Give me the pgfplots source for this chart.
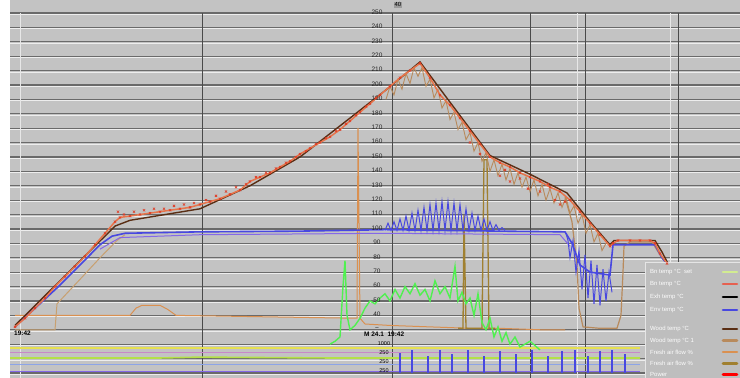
\documentclass[border=0pt]{standalone}
\usepackage{fontspec}
\setmainfont{Liberation Sans}
\usepackage{pgfplots}
\pgfplotsset{compat=1.18}
\definecolor{bg}{HTML}{C3C3C3}
\definecolor{gridc}{HTML}{6A6A6A}
\definecolor{vgrid}{HTML}{4A4A4A}
\definecolor{bt}{HTML}{E8744A}
\definecolor{btm}{HTML}{E03A24}
\definecolor{dbrown}{HTML}{5A2E14}
\definecolor{tan}{HTML}{B88A5C}
\definecolor{tanl}{HTML}{C8A070}
\definecolor{envb}{HTML}{4848E0}
\definecolor{purp}{HTML}{8468E8}
\definecolor{orng}{HTML}{DA9050}
\definecolor{olive}{HTML}{A08030}
\definecolor{grn}{HTML}{50F050}
\definecolor{ylw}{HTML}{E6E050}
\definecolor{pink}{HTML}{C888C8}
\definecolor{lblue}{HTML}{8CA4E8}
\definecolor{ygrn}{HTML}{B4E048}
\definecolor{legbg}{HTML}{BEBEBE}
\newcommand{\legentry}[3]{%
  \node[font=\fontsize{6}{7}\selectfont,text=white!95!legbg,anchor=west,inner sep=0pt] at (axis cs:650,#1) {#2};
  \draw[#3,line width=2.6bp,line cap=round] (axis cs:723,#1) -- (axis cs:737,#1);}
\begin{document}
\begin{tikzpicture}
\useasboundingbox (0,0) rectangle (740bp,378bp);
\clip (0,0) rectangle (740bp,378bp);
\fill[white] (0,0) rectangle (740bp,378bp);
\begin{axis}[at={(0,0)},anchor=south west,scale only axis,width=740bp,height=378bp,
  xmin=0,xmax=740,ymin=-3.5,ymax=259,hide axis,clip=false]
% background
\fill[bg] (axis cs:10,-3.5) rectangle (axis cs:740,259);
% horizontal grid
\pgfplotsinvokeforeach{0,10,...,250}{
  \draw[gridc,line width=1.1bp] (axis cs:10,#1) -- (axis cs:740,#1);
  \draw[white!70!bg,line width=0.6bp] (axis cs:10,#1-0.9) -- (axis cs:740,#1-0.9);
}
% vertical grid
\pgfplotsinvokeforeach{202,392,530,585,678}{
  \draw[vgrid,line width=1bp] (axis cs:#1,-3.5) -- (axis cs:#1,250);
}
\pgfplotsinvokeforeach{20,577,670}{
  \draw[white!60!bg,line width=0.8bp] (axis cs:#1,-3.5) -- (axis cs:#1,250);
}
% bottom strip lines
\addplot[ylw,line width=1.6bp] coordinates {(10,17.2) (640,17.2)};
\addplot[pink,line width=1.4bp] coordinates {(10,14.4) (640,14.4)};
\addplot[ygrn,line width=1.6bp] coordinates {(10,10.4) (160,10.4) (200,11) (330,10.4) (640,10.4)};
\addplot[lblue,line width=1.4bp] coordinates {(10,6) (640,6)};
\addplot[purp,line width=1.4bp] coordinates {(10,1.2) (640,1.2)};
\addplot[envb,ycomb,line width=1.4bp] coordinates {(400,14) (412,16) (428,12) (440,16) (452,13) (468,16) (484,12) (500,15) (516,13) (532,16) (548,12) (562,15) (575,16) (588,12) (600,15) (612,16) (625,13)};
% orange bottom line
\addplot[orng,line width=1bp] coordinates {(15,40) (130,40) (136,45) (142,47) (160,47) (168,44) (176,40) (355,38) (357,38) (358,170) (360,38) (365,34) (390,33) (470,31) (500,31) (540,30) (565,30)};
% olive spikes
\addplot[olive,line width=1.3bp] coordinates {(458,31) (463,31) (464,110) (466,31) (482,31) (484,148) (487,148) (489,31) (495,31)};
% green
\addplot[grn,line width=1.4bp] coordinates {(330,20) (335,22) (340,25) (343,60) (345,78) (347,40) (350,30) (355,33) (360,38) (365,45) (370,50) (375,48) (380,52) (385,55) (390,50) (395,58) (400,52) (405,60) (410,55) (415,62) (420,54) (425,58) (430,50) (435,64) (440,55) (445,60) (450,52) (455,74) (458,50) (462,56) (466,48) (470,52) (474,40) (478,55) (482,35) (486,30) (490,38) (494,25) (498,32) (502,22) (506,28) (510,20) (515,25) (520,18) (530,22) (540,16)};
% tan step (set temp)
\addplot[tanl,line width=1bp] coordinates {(15,30) (55,30) (57,48) (80,65) (100,80) (117,92) (125,96)};
% tan lower box curve
\addplot[tan,line width=1.2bp] coordinates {(565,122) (572,105) (577,75) (579,45) (583,32) (600,31) (617,31) (621,40) (623,70) (624,88) (630,91) (652,91) (660,82) (668,74)};
% purple env line
\addplot[purp,line width=1bp] coordinates {(100,86) (120,94) (200,96) (385,97) (560,96) (570,88)};
% blue env line
\addplot[envb,line width=1.6bp] coordinates {(15,32) (60,61) (100,89) (112,95) (125,97) (200,98) (300,98.5) (385,99.5) (500,98.5) (565,98) (572,90) (580,75) (590,70) (610,68) (613,89) (655,89) (662,80) (668,75)};
% blue oscillation
\addplot[envb,line width=1bp] coordinates {(385,99) (388,104) (391,99) (394,105) (397,99) (400,107) (403,99) (406,109) (409,99) (412,111) (415,99) (418,113) (421,99) (424,115) (427,99) (430,117) (433,99) (436,118) (439,99) (442,119) (445,99) (448,119) (451,99) (454,118) (457,99) (460,117) (463,99) (466,114) (469,99) (472,111) (475,99) (478,109) (481,99) (484,107) (487,99) (490,105) (493,99) (496,103) (499,99) (502,101) (505,99)};
\addplot[envb,line width=1bp] coordinates {(566,97) (568,92) (570,80) (573,92) (576,70) (579,85) (582,58) (585,82) (588,52) (591,78) (594,48) (597,75) (600,47) (603,72) (606,50) (609,70) (612,56)};
% dark brown line
\addplot[dbrown,line width=1.4bp] coordinates {(15,33) (60,64) (115,102) (130,106) (200,114) (250,130) (300,150) (350,177) (385,196) (420,216) (450,188) (490,151) (530,138) (567,125) (590,105) (610,89) (614,92) (655,92) (662,84) (668,76)};
% tan zigzag
\addplot[tan,line width=0.9bp] coordinates {(386,190) (390,199) (394,193) (398,204) (402,197) (406,208) (410,201) (414,212) (418,206) (422,212) (426,199) (430,204) (434,191) (438,197) (442,184) (446,189) (450,176) (454,181) (458,169) (462,174) (466,162) (470,167) (474,154) (478,160) (482,147) (486,153) (490,140) (494,148) (498,137) (502,145) (506,134) (510,142) (514,131) (518,139) (522,129) (526,136) (530,126) (534,134) (538,123) (542,131) (546,120) (550,128) (554,118) (558,125) (562,115) (566,122) (570,111) (574,116) (578,104) (582,110) (586,97) (590,103) (594,91) (598,97) (602,85) (606,90)};
% bean temperature
\addplot[bt,line width=1.5bp,mark=x,mark size=1.6bp,mark options={btm,line width=0.6bp}] coordinates {(15,32) (25,38) (35,45) (45,52) (55,60) (65,67) (75,74) (85,81) (95,89) (105,97) (115,105) (120,108) (130,109) (140,110) (150,111) (160,112) (170,113) (180,114) (190,115) (200,117) (210,119) (220,121) (230,124) (240,127) (250,133) (260,136) (270,139) (280,143) (290,147) (300,152) (310,156) (320,160) (330,164) (340,169) (350,175) (360,181) (370,187) (380,193) (390,199) (400,205) (410,210) (420,215) (430,205) (440,193) (450,186) (460,177) (470,168) (480,159) (490,150) (500,146) (510,143) (520,139) (530,136) (540,133) (550,129) (560,126) (570,120) (580,112) (590,104) (600,96) (610,88) (613,90) (618,92) (630,92) (640,92) (650,92) (655,90) (660,83) (667,76)};
% noisy bean marks
\addplot[only marks,mark=x,mark size=1.6bp,btm,line width=0.6bp] coordinates {(118,112) (124,110) (134,112) (144,113) (154,114) (164,114) (174,116) (184,117) (194,118) (206,120) (216,123) (226,126) (236,129) (246,131) (256,136) (266,139) (276,142) (286,146) (296,150) (306,154) (316,159) (326,163) (336,168) (346,173) (356,179) (366,185) (376,191) (470,160) (480,152) (500,137) (505,141) (510,133) (520,135) (528,128) (540,126) (548,131) (555,120) (560,117) (565,119)};
% y tick labels
\pgfplotsinvokeforeach{40,50,...,250}{
  \node[font=\fontsize{6.5}{7}\selectfont,text=black!85,inner sep=0pt] at (axis cs:377,#1+0.6) {#1};
}
\node[font=\fontsize{6}{7}\selectfont,inner sep=0.6pt,fill=bg!80!black] at (axis cs:398,255.6) {40};
\node[font=\fontsize{6}{7}\selectfont,inner sep=0pt] at (axis cs:377,30.5) {--};
% bottom strip labels
\node[font=\fontsize{5.5}{6}\selectfont,inner sep=0pt] at (axis cs:384,20.2) {1000};
\node[font=\fontsize{5.5}{6}\selectfont,inner sep=0pt] at (axis cs:384,14) {250};
\node[font=\fontsize{5.5}{6}\selectfont,inner sep=0pt] at (axis cs:384,7.8) {250};
\node[font=\fontsize{5.5}{6}\selectfont,inner sep=0pt] at (axis cs:384,1.6) {250};
% time labels
\node[font=\bfseries\fontsize{6.5}{7}\selectfont,anchor=west,inner sep=0pt] at (axis cs:14,27.5) {19:42};
\node[font=\bfseries\fontsize{6.5}{7}\selectfont,anchor=west,inner sep=0pt] at (axis cs:364,27.2) {M\ 24.1\ \ 19:42};
% legend box
\fill[legbg] (axis cs:645,-3.5) rectangle (axis cs:740,77);
\draw[white!60!legbg,line width=0.8bp] (axis cs:645,-3.5) -- (axis cs:645,77) -- (axis cs:740,77);
\legentry{70.1}{Bn temp \textdegree C\ \ set}{ygrn!60!white}
\legentry{61.8}{Bn temp \textdegree C}{btm!80!white}
\legentry{52.8}{Exh temp \textdegree C}{black}
\legentry{43.8}{Env temp \textdegree C}{envb}
\legentry{30.5}{Wood temp \textdegree C}{dbrown}
\legentry{22.5}{Wood temp \textdegree C 1}{tan}
\legentry{14.5}{Fresh air flow \%}{orng}
\legentry{6.5}{Fresh air flow \%}{olive}
\legentry{-1.0}{Power}{red}
\end{axis}
\end{tikzpicture}
\end{document}
